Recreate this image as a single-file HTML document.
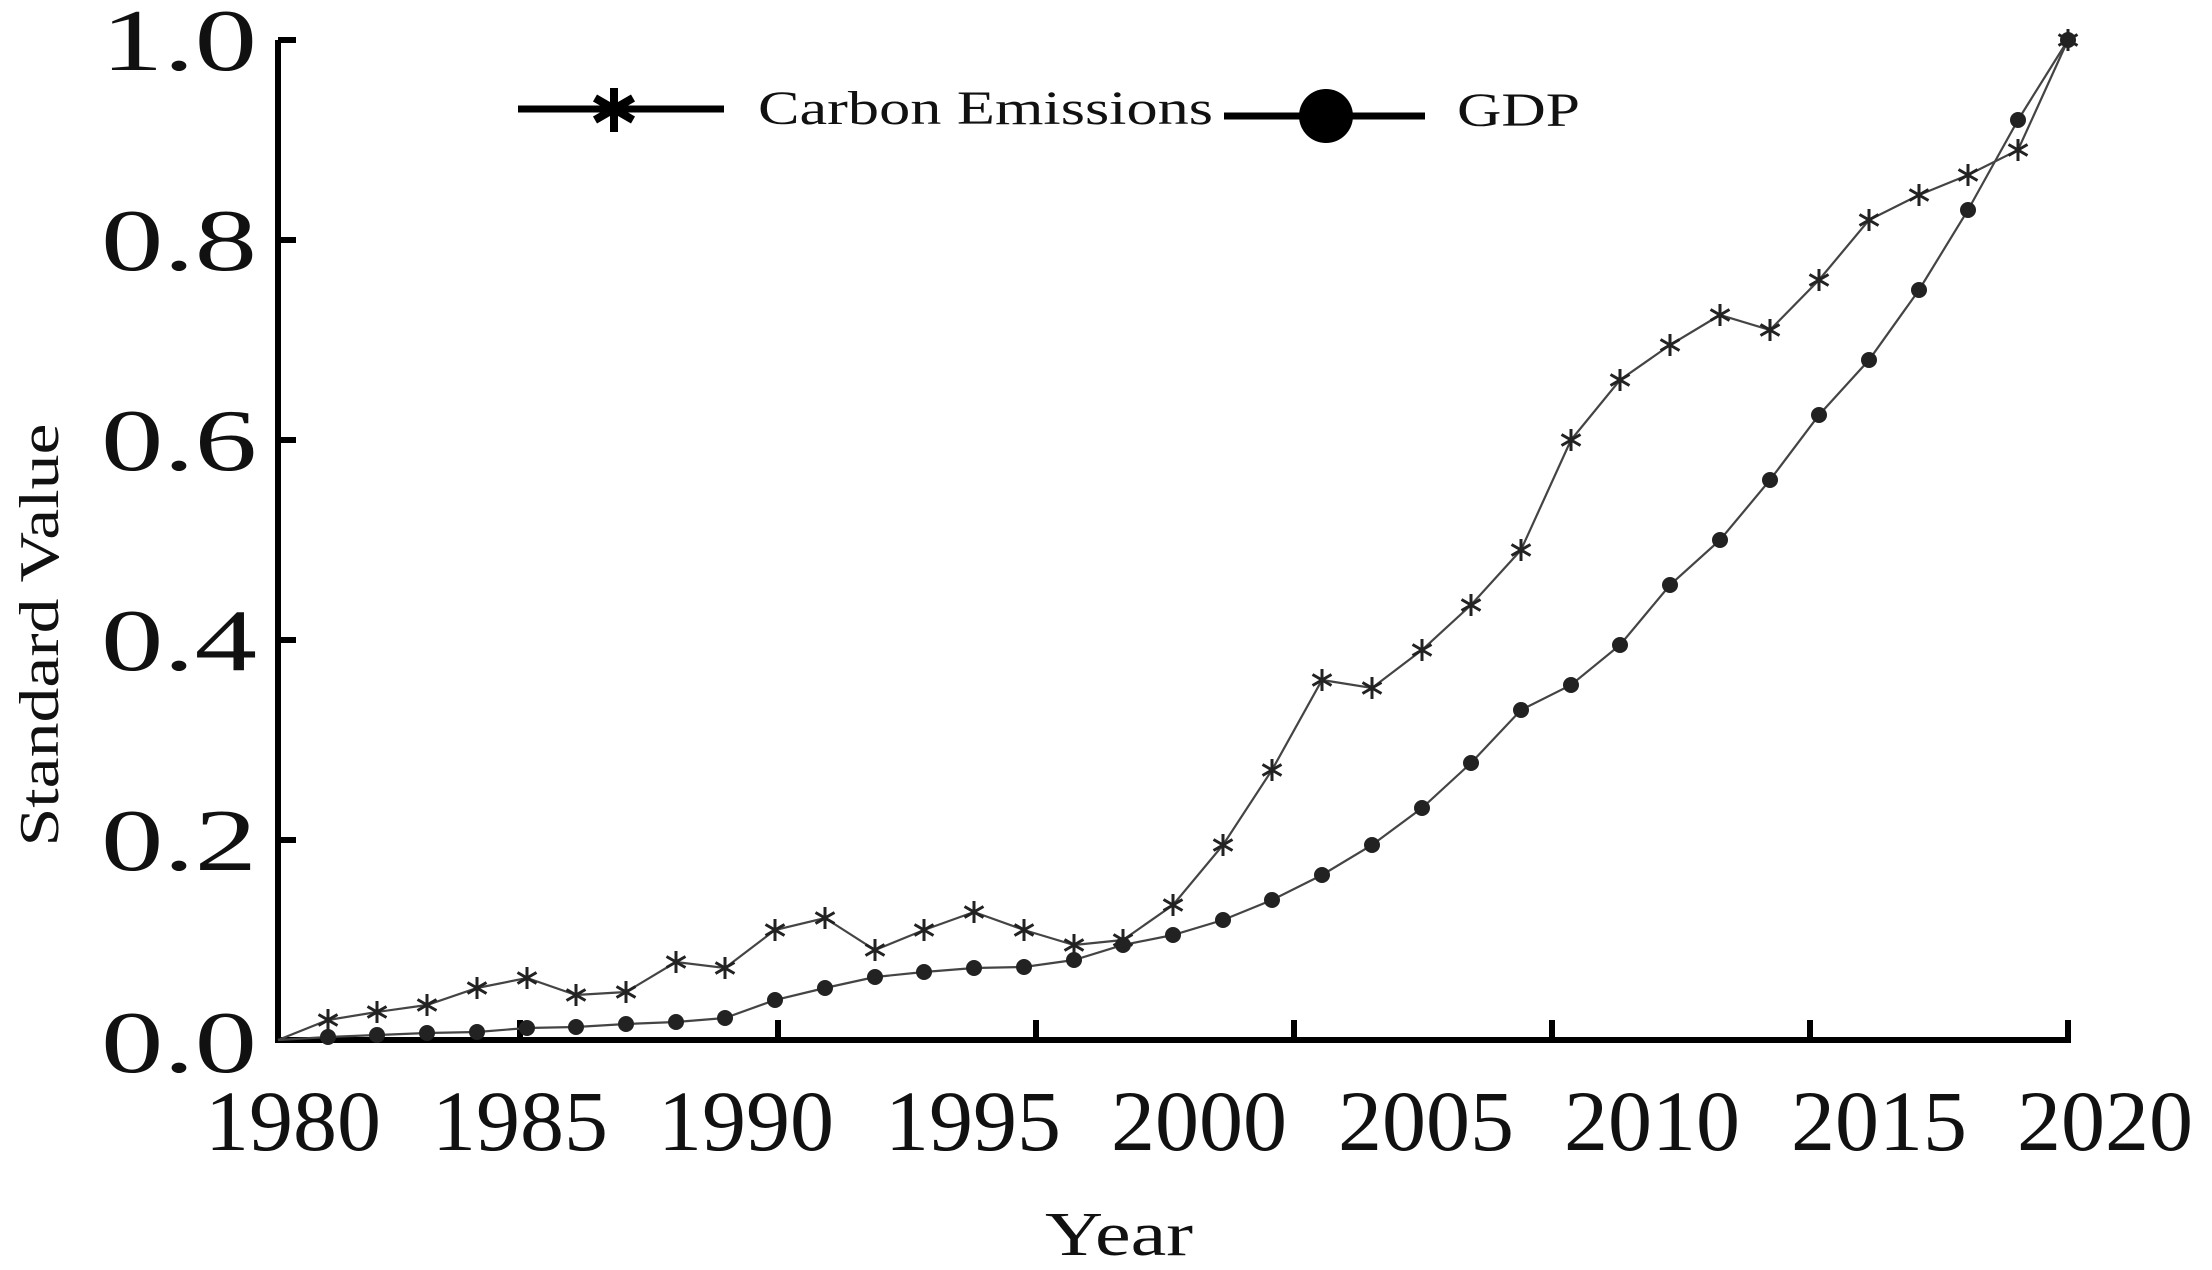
<!DOCTYPE html>
<html><head><meta charset="utf-8"><style>html,body{margin:0;padding:0;background:#fff}svg{display:block}</style></head><body>
<svg width="2212" height="1270" viewBox="0 0 2212 1270" xmlns="http://www.w3.org/2000/svg" font-family="Liberation Serif, serif" fill="#111">
<defs>
<path id="st" d="M0,-11V11M-9.5,-5.5L9.5,5.5M-9.5,5.5L9.5,-5.5" stroke="#222" stroke-width="3" fill="none"/>
<circle id="dt" r="8" fill="#222"/>
</defs>
<path d="M278,40V1040H2068V1025" stroke="#000" stroke-width="6" fill="none"/>
<g stroke="#000" stroke-width="6">
<line x1="278" y1="40" x2="296" y2="40"/><line x1="278" y1="240" x2="296" y2="240"/><line x1="278" y1="440" x2="296" y2="440"/><line x1="278" y1="640" x2="296" y2="640"/><line x1="278" y1="840" x2="296" y2="840"/>
<line x1="520" y1="1040" x2="520" y2="1020"/><line x1="778" y1="1040" x2="778" y2="1020"/><line x1="1036" y1="1040" x2="1036" y2="1020"/><line x1="1294" y1="1040" x2="1294" y2="1020"/><line x1="1552" y1="1040" x2="1552" y2="1020"/><line x1="1810" y1="1040" x2="1810" y2="1020"/><line x1="2068" y1="1040" x2="2068" y2="1020"/>
</g>
<g font-size="88" text-anchor="end">
<text x="257" y="70" textLength="156" lengthAdjust="spacingAndGlyphs">1.0</text>
<text x="257" y="270" textLength="156" lengthAdjust="spacingAndGlyphs">0.8</text>
<text x="257" y="470" textLength="156" lengthAdjust="spacingAndGlyphs">0.6</text>
<text x="257" y="670" textLength="156" lengthAdjust="spacingAndGlyphs">0.4</text>
<text x="257" y="870" textLength="156" lengthAdjust="spacingAndGlyphs">0.2</text>
<text x="257" y="1072" textLength="156" lengthAdjust="spacingAndGlyphs">0.0</text>
</g>
<g font-size="86">
<text x="205" y="1150" textLength="176" lengthAdjust="spacingAndGlyphs">1980</text>
<text x="432" y="1150" textLength="176" lengthAdjust="spacingAndGlyphs">1985</text>
<text x="658" y="1150" textLength="176" lengthAdjust="spacingAndGlyphs">1990</text>
<text x="885" y="1150" textLength="176" lengthAdjust="spacingAndGlyphs">1995</text>
<text x="1111" y="1150" textLength="176" lengthAdjust="spacingAndGlyphs">2000</text>
<text x="1338" y="1150" textLength="176" lengthAdjust="spacingAndGlyphs">2005</text>
<text x="1564" y="1150" textLength="176" lengthAdjust="spacingAndGlyphs">2010</text>
<text x="1791" y="1150" textLength="176" lengthAdjust="spacingAndGlyphs">2015</text>
<text x="2017" y="1150" textLength="176" lengthAdjust="spacingAndGlyphs">2020</text>
</g>
<text x="1045" y="1255" font-size="62" textLength="148" lengthAdjust="spacingAndGlyphs">Year</text>
<text transform="translate(58,635) rotate(-90)" font-size="56" text-anchor="middle" textLength="423" lengthAdjust="spacingAndGlyphs">Standard Value</text>
<line x1="518" y1="109" x2="724" y2="109" stroke="#000" stroke-width="7"/>
<path d="M614,88V132M595,98L633,120M595,120L633,98" stroke="#000" stroke-width="8"/>
<text x="758" y="124" font-size="48" textLength="455" lengthAdjust="spacingAndGlyphs">Carbon Emissions</text>
<line x1="1224" y1="116" x2="1425" y2="116" stroke="#000" stroke-width="7"/>
<circle cx="1326" cy="116" r="27" fill="#000"/>
<text x="1457" y="126" font-size="48" textLength="123" lengthAdjust="spacingAndGlyphs">GDP</text>
<polyline fill="none" stroke="#444" stroke-width="2.2" points="278,1040 328,1020 377,1012 427,1005 477,988 527,978 576,995 626,992 676,962 725,968 775,930 825,918 875,950 924,930 974,912 1024,930 1074,945 1123,940 1173,905 1223,845 1272,770 1322,680 1372,688 1422,650 1471,605 1521,550 1571,440 1620,380 1670,345 1720,315 1770,330 1819,280 1869,220 1919,195 1968,175 2018,150 2068,40"/>
<polyline fill="none" stroke="#444" stroke-width="2.2" points="278,1040 328,1037 377,1035 427,1033 477,1032 527,1028 576,1027 626,1024 676,1022 725,1018 775,1000 825,988 875,977 924,972 974,968 1024,967 1074,960 1123,945 1173,935 1223,920 1272,900 1322,875 1372,845 1422,808 1471,763 1521,710 1571,685 1620,645 1670,585 1720,540 1770,480 1819,415 1869,360 1919,290 1968,210 2018,120 2068,40"/>
<g>
<use href="#st" x="328" y="1020"/><use href="#st" x="377" y="1012"/><use href="#st" x="427" y="1005"/><use href="#st" x="477" y="988"/><use href="#st" x="527" y="978"/><use href="#st" x="576" y="995"/><use href="#st" x="626" y="992"/><use href="#st" x="676" y="962"/><use href="#st" x="725" y="968"/><use href="#st" x="775" y="930"/><use href="#st" x="825" y="918"/><use href="#st" x="875" y="950"/><use href="#st" x="924" y="930"/><use href="#st" x="974" y="912"/><use href="#st" x="1024" y="930"/><use href="#st" x="1074" y="945"/><use href="#st" x="1123" y="940"/><use href="#st" x="1173" y="905"/><use href="#st" x="1223" y="845"/><use href="#st" x="1272" y="770"/><use href="#st" x="1322" y="680"/><use href="#st" x="1372" y="688"/><use href="#st" x="1422" y="650"/><use href="#st" x="1471" y="605"/><use href="#st" x="1521" y="550"/><use href="#st" x="1571" y="440"/><use href="#st" x="1620" y="380"/><use href="#st" x="1670" y="345"/><use href="#st" x="1720" y="315"/><use href="#st" x="1770" y="330"/><use href="#st" x="1819" y="280"/><use href="#st" x="1869" y="220"/><use href="#st" x="1919" y="195"/><use href="#st" x="1968" y="175"/><use href="#st" x="2018" y="150"/><use href="#st" x="2068" y="40"/>
</g>
<g>
<use href="#dt" x="328" y="1037"/><use href="#dt" x="377" y="1035"/><use href="#dt" x="427" y="1033"/><use href="#dt" x="477" y="1032"/><use href="#dt" x="527" y="1028"/><use href="#dt" x="576" y="1027"/><use href="#dt" x="626" y="1024"/><use href="#dt" x="676" y="1022"/><use href="#dt" x="725" y="1018"/><use href="#dt" x="775" y="1000"/><use href="#dt" x="825" y="988"/><use href="#dt" x="875" y="977"/><use href="#dt" x="924" y="972"/><use href="#dt" x="974" y="968"/><use href="#dt" x="1024" y="967"/><use href="#dt" x="1074" y="960"/><use href="#dt" x="1123" y="945"/><use href="#dt" x="1173" y="935"/><use href="#dt" x="1223" y="920"/><use href="#dt" x="1272" y="900"/><use href="#dt" x="1322" y="875"/><use href="#dt" x="1372" y="845"/><use href="#dt" x="1422" y="808"/><use href="#dt" x="1471" y="763"/><use href="#dt" x="1521" y="710"/><use href="#dt" x="1571" y="685"/><use href="#dt" x="1620" y="645"/><use href="#dt" x="1670" y="585"/><use href="#dt" x="1720" y="540"/><use href="#dt" x="1770" y="480"/><use href="#dt" x="1819" y="415"/><use href="#dt" x="1869" y="360"/><use href="#dt" x="1919" y="290"/><use href="#dt" x="1968" y="210"/><use href="#dt" x="2018" y="120"/><use href="#dt" x="2068" y="40"/>
</g>
</svg>
</body></html>
